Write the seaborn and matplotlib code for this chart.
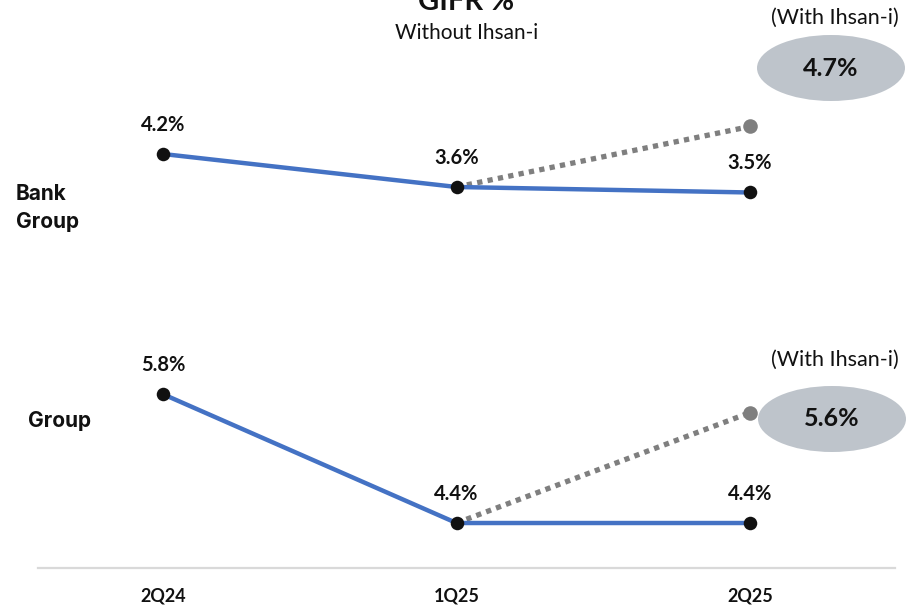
import matplotlib
matplotlib.use("Agg")
import matplotlib.pyplot as plt
from matplotlib.patches import Ellipse
import pandas as pd
import seaborn as sns

# GIFR % by period, without Ihsan-i, plus the 2Q25 figure with Ihsan-i
periods = ["2Q24", "1Q25", "2Q25"]
bank_group = [4.2, 3.6, 3.5]
group = [5.8, 4.4, 4.4]
bank_group_ihsan = 4.7
group_ihsan = 5.6
panel_names = ["Bank\nGroup", "Group"]

sns.set_theme(style="white")
plt.rcParams["font.family"] = ["Lato", "DejaVu Sans"]

BLUE = "#4472C4"
GREY = "#7F7F7F"
ELLIPSE = "#BEC4CB"
INK = "#111111"

W, H = 912, 607
fig = plt.figure(figsize=(W / 100, H / 100), dpi=100)


def fx(x):
    return x / W


def fy(y):
    return 1 - y / H


def add_panel(top, bottom):
    return fig.add_axes([fx(38), fy(bottom), fx(895) - fx(38), (bottom - top) / H])


ax_top = add_panel(0, 290)
ax_bot = add_panel(300, 568)

xs = list(range(len(periods)))


def draw_panel(ax, values, ihsan, ylim):
    df = pd.DataFrame({"x": xs, "value": values})
    ihsan_df = pd.DataFrame({"x": [xs[1], xs[2]], "value": [values[1], ihsan]})

    sns.lineplot(data=ihsan_df, x="x", y="value", ax=ax, color=GREY, lw=3.8,
                 linestyle=(0, (1, 1)), dash_capstyle="butt", zorder=2)
    sns.scatterplot(x=[xs[2]], y=[ihsan], ax=ax, color=GREY, s=110,
                    linewidth=0, zorder=3)
    sns.lineplot(data=df, x="x", y="value", ax=ax, color=BLUE, lw=3.2, zorder=4)
    sns.scatterplot(data=df, x="x", y="value", ax=ax, color=INK, s=95,
                    linewidth=0, zorder=5)

    for x, v in zip(xs, values):
        ax.annotate(f"{v:.1f}%", (x, v), xytext=(0, 21), textcoords="offset points",
                    ha="center", va="center", fontsize=14.5, fontweight="bold",
                    color=INK)

    ax.set_xlim(-0.4259, 2.494)
    ax.set_ylim(*ylim)
    ax.set(xlabel="", ylabel="")
    ax.grid(False)


draw_panel(ax_top, bank_group, bank_group_ihsan, (1.727, 7.0))
draw_panel(ax_bot, group, group_ihsan, (3.911, 6.824))

ax_top.set_axis_off()

for side in ("top", "left", "right"):
    ax_bot.spines[side].set_visible(False)
ax_bot.spines["bottom"].set_color("#D9D9D9")
ax_bot.spines["bottom"].set_linewidth(1.6)
ax_bot.set_yticks([])
ax_bot.set_xticks(xs)
ax_bot.set_xticklabels(periods, fontsize=13, fontweight="bold", color=INK)
ax_bot.tick_params(axis="x", length=0, pad=14)

# Titles
fig.text(fx(466), fy(10), "GIFR %", ha="center", va="baseline",
         fontsize=21, fontweight="bold", color=INK)
fig.text(fx(467), fy(33), "Without Ihsan-i", ha="center", va="center",
         fontsize=15, color=INK)

# Panel names
fig.text(fx(16), fy(208), panel_names[0], ha="left", va="center", fontsize=15,
         fontweight="bold", linespacing=1.45, color=INK,
         family=["Inter", "DejaVu Sans"])
fig.text(fx(28), fy(421), panel_names[1], ha="left", va="center", fontsize=15,
         fontweight="bold", color=INK, family=["Inter", "DejaVu Sans"])

# With Ihsan-i callouts
for (cx, cy), ty, val in [((831, 68), 18, bank_group_ihsan),
                          ((832, 419), 360, group_ihsan)]:
    fig.text(fx(835), fy(ty), "(With Ihsan-i)", ha="center", va="center",
             fontsize=15.5, color=INK)
    fig.add_artist(Ellipse((fx(cx), fy(cy)), 148 / W, 66 / H,
                           transform=fig.transFigure, facecolor=ELLIPSE,
                           edgecolor="none", zorder=1))
    fig.text(fx(cx), fy(cy), f"{val:.1f}%", ha="center", va="center",
             fontsize=18, fontweight="bold", color=INK, zorder=2)

fig.savefig("out.png", dpi=100)
